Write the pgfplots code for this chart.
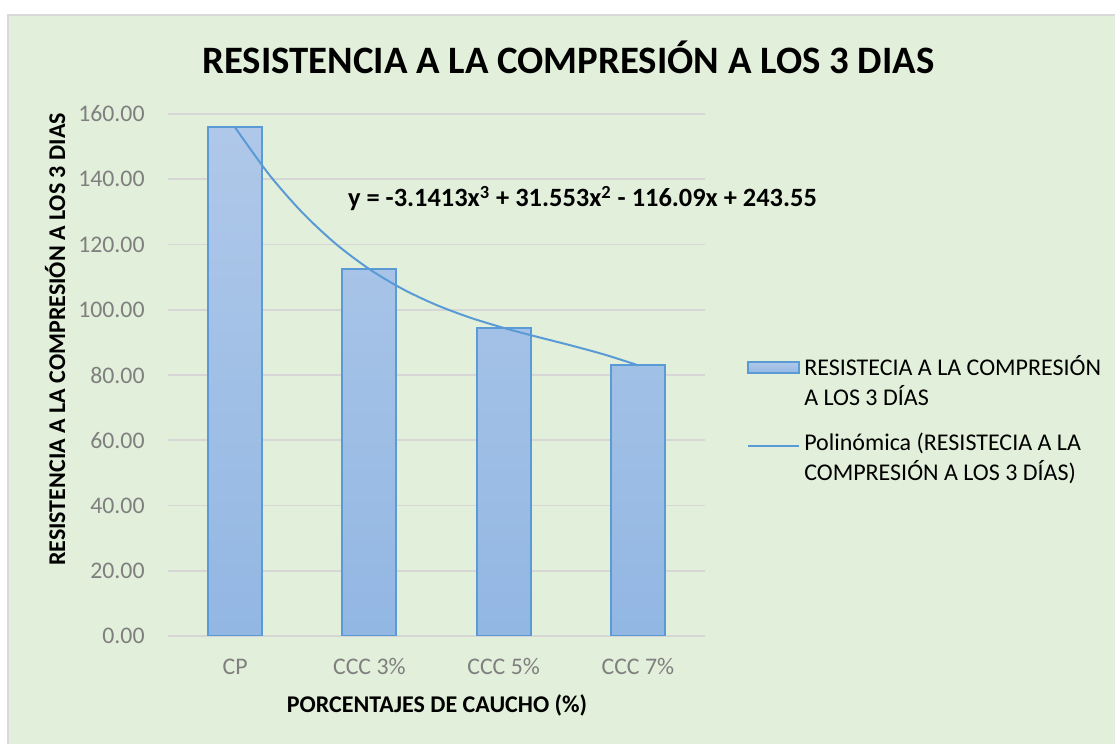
\documentclass[border=0pt]{standalone}
\usepackage{fontspec}
\setmainfont{Carlito}
\usepackage{pgfplots}
\pgfplotsset{compat=1.18}

\definecolor{bgGreen}{HTML}{E2EFDA}
\definecolor{frameGray}{HTML}{D9D9D9}
\definecolor{gridGray}{HTML}{D6D6D6}
\definecolor{barLine}{HTML}{5B9BD5}
\definecolor{barTop}{HTML}{AFC8E9}
\definecolor{barBot}{HTML}{92B7E3}
\definecolor{tickGray}{HTML}{7F7F7F}

\begin{document}
\begin{tikzpicture}
% page frame: 1115x744 px at 0.5pt per px
\path[use as bounding box] (0,0) rectangle (557.5pt,372pt);
\fill[white] (0,0) rectangle (557.5pt,372pt);
\begin{scope}
\clip (0,0) rectangle (557.5pt,372pt);
\draw[frameGray, line width=1pt, fill=bgGreen] (3.75pt,364.5pt) rectangle (570pt,-10pt);
\end{scope}

\begin{axis}[
    at={(84pt,54pt)}, anchor=south west,
    scale only axis, width=268.5pt, height=261pt,
    xmin=-0.5, xmax=3.5, ymin=0, ymax=160,
    xtick={0,1,2,3},
    xticklabels={CP, CCC 3\%, CCC 5\%, CCC 7\%},
    ytick={0,20,...,160},
    axis line style={draw=none},
    major tick length=0pt,
    ymajorgrids, grid style={gridGray, line width=0.9pt},
    scaled y ticks=false,
    /pgf/number format/.cd, fixed, fixed zerofill, precision=2, 1000 sep={}, assume math mode=true,
    /pgfplots/.cd,
    tick label style={tickGray, font=\fontsize{11.9}{14}\selectfont, inner sep=0pt},
    yticklabel style={anchor=east, xshift=-11.5pt},
    xticklabel style={anchor=base, yshift=-19.5pt},
    legend style={at={(1.078,0.538)}, anchor=north west, draw=none, fill=none,
                  inner sep=0pt, row sep=12.5pt, column sep=2pt,
                  nodes={inner sep=0pt, text=black, align=left,
                         font=\fontsize{12}{14.8}\selectfont}},
    legend cell align=left,
]
% bars: compressive strength at 3 days
\addplot[ybar, bar width=27pt, draw=barLine, line width=1pt,
         top color=barTop, bottom color=barBot,
         legend image code/.code={\draw[barLine, line width=1pt, top color=barTop, bottom color=barBot]
             (0pt,4.25pt) rectangle (25.5pt,9.75pt);}]
    coordinates {(0,155.87) (1,112.45) (2,94.44) (3,83.00)};
\addlegendentry{RESISTECIA A LA COMPRESIÓN\\A LOS 3 DÍAS}
% polynomial trendline
\addplot[barLine, line width=1pt, smooth, no marks,
         legend image code/.code={\draw[barLine, line width=1pt] (0pt,6pt) -- (25.5pt,6pt);}]
    coordinates {
    (0,155.87) (0.25,141.60) (0.5,129.81) (0.75,120.19) (1,112.45)
    (1.25,106.30) (1.5,101.45) (1.75,97.59) (2,94.44)
    (2.25,91.70) (2.5,89.08) (2.75,86.27) (3,83.00)
    };
\addlegendentry{Polinómica (RESISTECIA A LA\\COMPRESIÓN A LOS 3 DÍAS)}
\end{axis}

\node[anchor=base, font=\bfseries\fontsize{19.4}{23}\selectfont] at (284.25pt,335pt)
    {RESISTENCIA A LA COMPRESIÓN A LOS 3 DIAS};
\node[anchor=base, font=\bfseries\fontsize{12}{15}\selectfont] at (218.5pt,15.5pt)
    {PORCENTAJES DE CAUCHO (\%)};
\node[anchor=base, rotate=90, font=\bfseries\fontsize{12}{15}\selectfont] at (32.5pt,202.25pt)
    {RESISTENCIA A LA COMPRESIÓN A LOS 3 DIAS};
\node[anchor=base, font=\bfseries\fontsize{13.2}{15}\selectfont] at (291.25pt,268.5pt)
    {y = -3.1413x\textsuperscript{3} + 31.553x\textsuperscript{2} - 116.09x + 243.55};
\end{tikzpicture}
\end{document}
